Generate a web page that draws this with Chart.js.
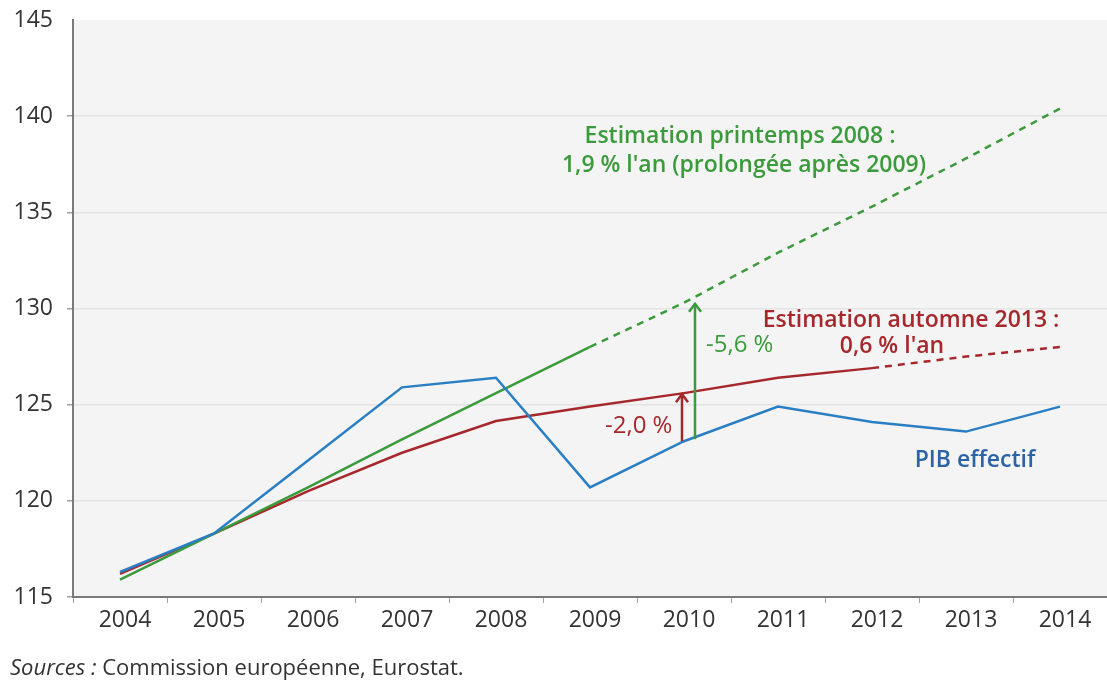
<!DOCTYPE html>
<html>
<head>
<meta charset="utf-8">
<script src="https://cdn.jsdelivr.net/npm/chart.js@4.4.1/dist/chart.umd.min.js"></script>
<style>
  body { margin: 0; background: #fff; }
  #wrap { width: 1107px; height: 684px; position: relative; }
</style>
</head>
<body>
<div id="wrap"><canvas id="myChart" width="1107" height="684"></canvas></div>
<script>
const years = ['2004', '2005', '2006', '2007', '2008', '2009', '2010', '2011', '2012', '2013', '2014'];
const pibEffectif = [116.3, 118.3, 122.1, 125.9, 126.4, 120.7, 123.1, 124.9, 124.1, 123.6, 124.9];
const printemps2008 = [115.9, 118.3, 120.7, 123.2, 125.6, 128.0, 130.3, 132.9, 135.3, 137.8, 140.4];
const automne2013 = [116.2, 118.3, 120.5, 122.5, 124.15, 124.9, 125.6, 126.4, 126.9, 127.5, 128.0];
const yTicks = [115, 120, 125, 130, 135, 140, 145];

const GREEN = '#3b9a3b';
const RED = '#a6282c';
const BLUE = '#2a7fc4';
const FONT = '"Open Sans", "DejaVu Sans", sans-serif';

// fond gris de la zone de tracé
const bgPlugin = {
	id: 'bgPlugin',
	beforeDraw(chart) {
		const a = chart.chartArea;
		const c = chart.ctx;
		c.save();
		c.fillStyle = '#f4f4f4';
		c.fillRect(a.left, a.top, a.right - a.left, a.bottom - a.top);
		c.restore();
	}
};

function arrow(c, x, y0, y1, color) {
	c.save();
	c.strokeStyle = color;
	c.lineWidth = 2.5;
	c.beginPath();
	c.moveTo(x, y0);
	c.lineTo(x, y1 + 1);
	c.stroke();
	c.beginPath();
	c.moveTo(x - 6, y1 + 9);
	c.lineTo(x, y1 + 1);
	c.lineTo(x + 6, y1 + 9);
	c.stroke();
	c.restore();
}

// flèches et textes
const notesPlugin = {
	id: 'notesPlugin',
	afterDatasetsDraw(chart) {
		const c = chart.ctx;
		const xs = chart.scales.x;
		const ys = chart.scales.y;
		const i = 6;
		const x = xs.getPixelForValue(i);
		arrow(c, x - 2, ys.getPixelForValue(pibEffectif[i]), ys.getPixelForValue(automne2013[i]), RED);
		arrow(c, x + 11, ys.getPixelForValue(pibEffectif[i]) - 2, ys.getPixelForValue(printemps2008[i]), GREEN);

		c.save();
		c.textBaseline = 'alphabetic';
		c.font = '600 23px ' + FONT;
		c.textAlign = 'center';
		c.fillStyle = GREEN;
		c.fillText('Estimation printemps 2008 :', 740, 143);
		c.fillText("1,9 % l'an (prolongée après 2009)", 744, 172);
		c.fillStyle = RED;
		c.fillText('Estimation automne 2013 :', 911, 327);
		c.fillText("0,6 % l'an", 892, 353);
		c.fillStyle = '#2b63a6';
		c.fillText('PIB effectif', 975, 467);

		c.font = '24px ' + FONT;
		c.textAlign = 'left';
		c.fillStyle = GREEN;
		c.fillText('-5,6 %', 706, 352);
		c.fillStyle = RED;
		c.fillText('-2,0 %', 605, 433);

		// source
		c.fillStyle = '#333';
		c.font = 'italic 22px ' + FONT;
		c.fillText('Sources :', 10, 675);
		const w = c.measureText('Sources :').width;
		c.font = '22px ' + FONT;
		c.fillText(' Commission européenne, Eurostat.', 10 + w, 675);
		c.restore();
	}
};

const ctx = document.getElementById('myChart').getContext('2d');
new Chart(ctx, {
	type: 'line',
	data: {
		labels: years,
		datasets: [
			{
				label: 'PIB effectif',
				data: pibEffectif,
				borderColor: BLUE,
				borderWidth: 2.5,
				pointRadius: 0,
				tension: 0
			},
			{
				label: 'Estimation printemps 2008',
				data: printemps2008,
				borderColor: GREEN,
				borderWidth: 2.5,
				pointRadius: 0,
				tension: 0,
				segment: {
					borderDash: c => c.p0DataIndex >= 5 ? [7, 6] : undefined
				}
			},
			{
				label: 'Estimation automne 2013',
				data: automne2013,
				borderColor: RED,
				borderWidth: 2.5,
				pointRadius: 0,
				tension: 0,
				segment: {
					borderDash: c => c.p0DataIndex >= 8 ? [7, 6] : undefined
				}
			}
		]
	},
	options: {
		responsive: false,
		animation: false,
		layout: { padding: { top: 20, left: 0, right: 0, bottom: 0 } },
		plugins: {
			legend: { display: false },
			tooltip: { enabled: false }
		},
		scales: {
			x: {
				offset: true,
				afterFit: s => { s.height = 87; },
				border: { color: '#7a7a7a', width: 2 },
				grid: {
					offset: true,
					drawOnChartArea: false,
					tickLength: 6,
					tickColor: '#a0a0a0'
				},
				ticks: {
					color: '#333',
					font: { family: FONT, size: 23 },
					padding: 4,
					labelOffset: 5,
					maxRotation: 0
				}
			},
			y: {
				min: 115,
				max: 145,
				afterFit: s => { s.width = 73; s.paddingTop = 0; s.paddingBottom = 0; },
				afterBuildTicks: s => { s.ticks = yTicks.map(v => ({ value: v })); },
				border: { color: '#7a7a7a', width: 2 },
				grid: {
					color: c => c.tick && c.tick.value === 145 ? 'rgba(0,0,0,0)' : '#e4e4e4',
					tickColor: c => c.tick && c.tick.value === 145 ? 'rgba(0,0,0,0)' : '#a0a0a0',
					tickLength: 6,
					lineWidth: 1.5
				},
				ticks: {
					color: '#333',
					font: { family: FONT, size: 23 },
					padding: 14
				}
			}
		}
	},
	plugins: [bgPlugin, notesPlugin]
});
</script>
</body>
</html>
